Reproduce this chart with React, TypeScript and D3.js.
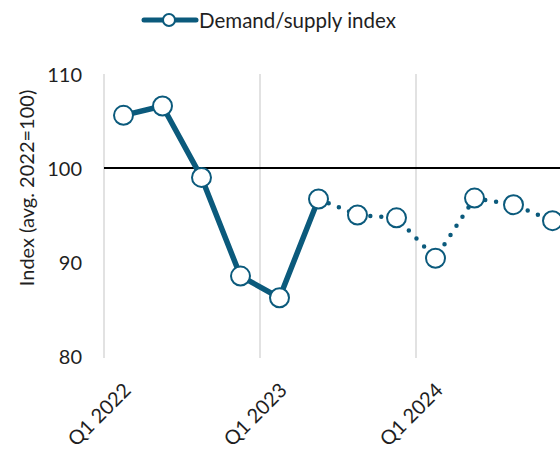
import { useEffect, useRef } from "react";
import * as d3 from "d3";

const quarters = [
  "Q1 2022", "Q2 2022", "Q3 2022", "Q4 2022",
  "Q1 2023", "Q2 2023", "Q3 2023", "Q4 2023",
  "Q1 2024", "Q2 2024", "Q3 2024", "Q4 2024",
];
const indexValues = [105.6, 106.6, 99.0, 88.5, 86.2, 96.7, 95.0, 94.7, 90.4, 96.8, 96.1, 94.4];
// last actual observation; the rest is a forecast drawn dotted
const lastActual = 5;
const yTicks = [80, 90, 100, 110];
const labelledQuarters = ["Q1 2022", "Q1 2023", "Q1 2024"];

const COLOR = "#0b5a7c";
const FONT = "Lato, 'Open Sans', sans-serif";
const TEXT = "#1f1f1f";

export default function App() {
  const ref = useRef<SVGSVGElement>(null);

  useEffect(() => {
    const width = 560;
    const height = 449;
    const svg = d3.select(ref.current);
    svg.selectAll("*").remove();

    const x = d3.scaleBand<string>().domain(quarters).range([104, 572]).padding(0);
    const y = d3.scaleLinear().domain([80, 110]).range([356, 74]);
    const cx = (q: string) => (x(q) ?? 0) + x.bandwidth() / 2;

    // vertical gridlines at start of each year
    svg
      .append("g")
      .selectAll("line")
      .data(labelledQuarters)
      .join("line")
      .attr("x1", (d) => x(d)!)
      .attr("x2", (d) => x(d)!)
      .attr("y1", y(110))
      .attr("y2", y(80) + 2)
      .attr("stroke", "#d9d9d9")
      .attr("stroke-width", 1.5);

    // reference line at 100
    svg
      .append("line")
      .attr("x1", x(quarters[0])!)
      .attr("x2", width)
      .attr("y1", y(100))
      .attr("y2", y(100))
      .attr("stroke", "#000")
      .attr("stroke-width", 2);

    // y tick labels
    svg
      .append("g")
      .selectAll("text")
      .data(yTicks)
      .join("text")
      .attr("x", 82)
      .attr("y", (d) => y(d))
      .attr("text-anchor", "end")
      .attr("dominant-baseline", "central")
      .attr("font-family", FONT)
      .attr("font-size", 20)
      .attr("fill", TEXT)
      .text((d) => d);

    svg
      .append("text")
      .attr("transform", `translate(26,188) rotate(-90)`)
      .attr("text-anchor", "middle")
      .attr("dominant-baseline", "central")
      .attr("font-family", FONT)
      .attr("font-size", 20)
      .attr("fill", TEXT)
      .text("Index (avg. 2022=100)");

    // x labels
    svg
      .append("g")
      .selectAll("text")
      .data(labelledQuarters)
      .join("text")
      .attr("transform", (d) => `translate(${cx(d) + 3},${386}) rotate(-45)`)
      .attr("text-anchor", "end")
      .attr("dominant-baseline", "central")
      .attr("font-family", FONT)
      .attr("font-size", 20)
      .attr("fill", TEXT)
      .text((d) => d);

    const line = d3
      .line<number>()
      .x((_, i) => cx(quarters[i]))
      .y((d) => y(d));

    const pts = indexValues.map((v, i) => [cx(quarters[i]), y(v)] as [number, number]);
    const xy = d3.line();

    svg
      .append("path")
      .attr("d", line(indexValues.slice(0, lastActual + 1)))
      .attr("fill", "none")
      .attr("stroke", COLOR)
      .attr("stroke-width", 5.5)
      .attr("stroke-linejoin", "round");

    svg
      .append("path")
      .attr("d", xy(pts.slice(lastActual)))
      .attr("fill", "none")
      .attr("stroke", COLOR)
      .attr("stroke-width", 4.5)
      .attr("stroke-linecap", "round")
      .attr("stroke-dasharray", "0 11");

    svg
      .append("g")
      .selectAll("circle")
      .data(pts)
      .join("circle")
      .attr("cx", (d) => d[0])
      .attr("cy", (d) => d[1])
      .attr("r", 9.5)
      .attr("fill", "#fff")
      .attr("stroke", COLOR)
      .attr("stroke-width", 2);

    // legend
    const lg = svg.append("g");
    lg.append("line")
      .attr("x1", 144)
      .attr("x2", 196)
      .attr("y1", 20)
      .attr("y2", 20)
      .attr("stroke", COLOR)
      .attr("stroke-width", 5)
      .attr("stroke-linecap", "round");
    lg.append("circle")
      .attr("cx", 169)
      .attr("cy", 20)
      .attr("r", 6)
      .attr("fill", "#fff")
      .attr("stroke", COLOR)
      .attr("stroke-width", 2);
    lg.append("text")
      .attr("x", 199)
      .attr("y", 20)
      .attr("dominant-baseline", "central")
      .attr("font-family", FONT)
      .attr("font-size", 20.5)
      .attr("fill", TEXT)
      .text("Demand/supply index");

    svg.attr("width", width).attr("height", height);
  }, []);

  return (
    <div style={{ position: "absolute", left: 0, top: 0, background: "#fff" }}>
      <svg ref={ref} style={{ display: "block" }} />
    </div>
  );
}
